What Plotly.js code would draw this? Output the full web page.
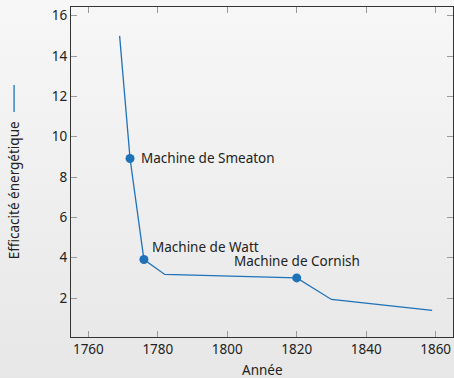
<!DOCTYPE html>
<html>
<head>
<meta charset="utf-8">
<script src="https://cdn.plot.ly/plotly-3.0.1.min.js"></script>
<style>
  html, body { margin: 0; padding: 0; }
  body {
    width: 454px; height: 378px; overflow: hidden;
    background: linear-gradient(to bottom, #f7f7f7 0%, #e7e7e7 100%);
  }
  #chart { width: 454px; height: 378px; }
</style>
</head>
<body>
<div id="chart"></div>
<script>
// Efficacité des machines à vapeur au fil des années
const annees = [1769, 1772, 1776, 1782, 1820, 1830, 1859];
const efficacite = [15.0, 8.92, 3.91, 3.17, 3.0, 1.93, 1.39];

// Machines remarquables, marquées d'un point et annotées
const machines = ["Machine de Smeaton", "Machine de Watt", "Machine de Cornish"];
const machinesAnnees = [1772, 1776, 1820];
const machinesEfficacite = [8.92, 3.91, 3.0];

const bleu = "#1f72b8";
const police = "'Noto Sans', 'DejaVu Sans', sans-serif";
const taille = 13.5;
const texte = { family: police, size: taille, color: "#222" };

const courbe = {
  x: annees, y: efficacite, type: "scatter", mode: "lines",
  line: { color: bleu, width: 1.3 }, hoverinfo: "skip", showlegend: false
};
const points = {
  x: machinesAnnees, y: machinesEfficacite, type: "scatter", mode: "markers",
  marker: { color: bleu, size: 9 }, hoverinfo: "skip", showlegend: false
};

// Positions des étiquettes par rapport à leur point
const decalages = [
  { xanchor: "left", yanchor: "middle", xshift: 9, yshift: 0 },
  { xanchor: "left", yanchor: "bottom", xshift: 6, yshift: 2 },
  { xanchor: "center", yanchor: "bottom", xshift: 0, yshift: 6 }
];
const annotations = machines.map((nom, i) => Object.assign({
  x: machinesAnnees[i], y: machinesEfficacite[i], xref: "x", yref: "y",
  text: nom, showarrow: false, font: texte
}, decalages[i]));

// Titre de l'axe vertical, suivi de son symbole de légende
annotations.push({
  xref: "paper", yref: "paper", x: -0.149, y: 0.445,
  xanchor: "center", yanchor: "middle", textangle: -90,
  text: "Efficacité énergétique", showarrow: false, font: texte
});
// Titre de l'axe horizontal
annotations.push({
  xref: "paper", yref: "paper", x: 0.5, y: -0.099,
  xanchor: "center", yanchor: "middle",
  text: "Année", showarrow: false, font: texte
});

const axe = {
  showgrid: false, zeroline: false, showline: true, linecolor: "#333", linewidth: 1,
  mirror: "ticks", ticks: "inside", ticklen: 6, tickcolor: "#999", tickwidth: 1,
  tickfont: texte
};

const layout = {
  width: 454, height: 378,
  margin: { l: 71, r: 1, t: 7, b: 41 },
  paper_bgcolor: "rgba(0,0,0,0)", plot_bgcolor: "rgba(0,0,0,0)",
  xaxis: Object.assign({}, axe, {
    range: [1755, 1865], tickvals: [1760, 1780, 1800, 1820, 1840, 1860]
  }),
  yaxis: Object.assign({}, axe, {
    range: [0.07, 16.43], tickvals: [2, 4, 6, 8, 10, 12, 14, 16]
  }),
  annotations: annotations,
  shapes: [{
    type: "line", xref: "paper", yref: "paper",
    x0: -0.149, x1: -0.149, y0: 0.682, y1: 0.764,
    line: { color: bleu, width: 1.3 }
  }]
};

Plotly.newPlot("chart", [courbe, points], layout, { staticPlot: true, displayModeBar: false });
</script>
</body>
</html>
